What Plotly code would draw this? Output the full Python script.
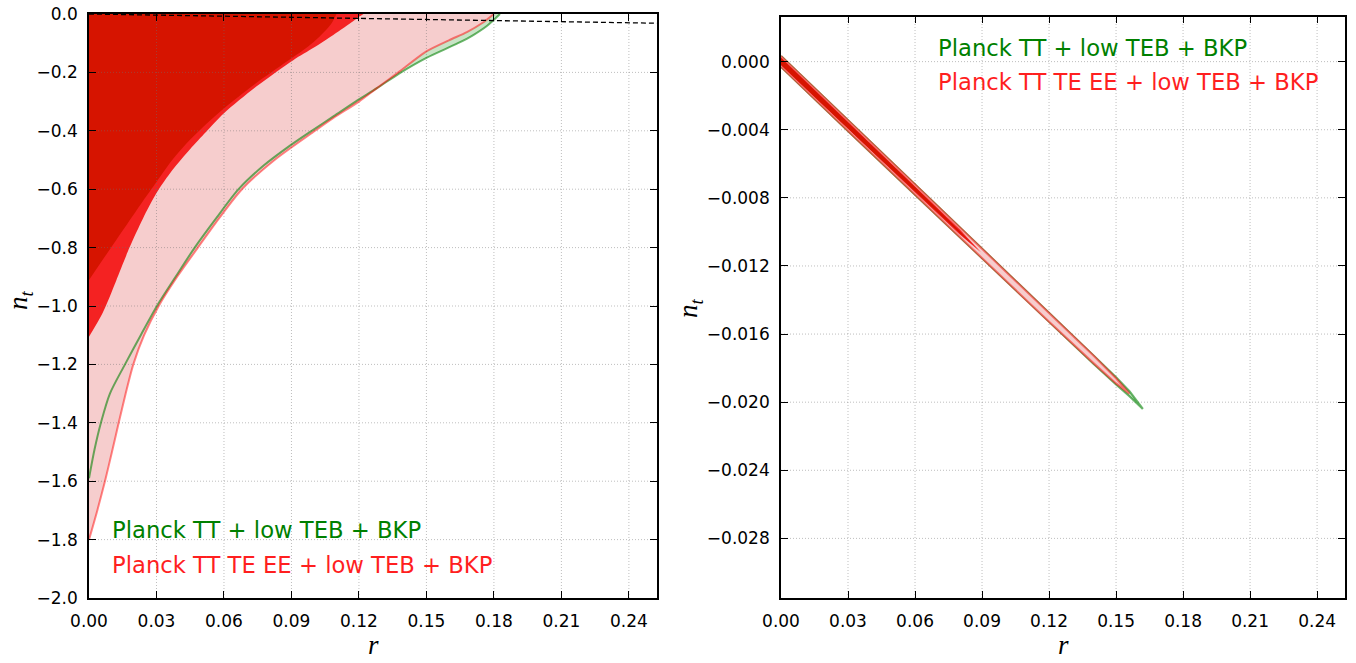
import plotly.graph_objects as go

# ---------------- data ----------------
# Left panel: contour boundaries n_t(r), from r=0 up to the top edge (n_t = 0)
green95_r = [0.0, 0.0025, 0.0053, 0.0093, 0.016, 0.023, 0.0302, 0.0385, 0.047, 0.0565, 0.0665, 0.0775, 0.0895, 0.099, 0.1088, 0.1185, 0.128, 0.138, 0.150, 0.164, 0.1708, 0.177, 0.1827]
green95_n = [-1.59, -1.49, -1.40, -1.30, -1.20, -1.10, -1.00, -0.90, -0.80, -0.70, -0.60, -0.52, -0.45, -0.40, -0.35, -0.30, -0.254, -0.203, -0.150, -0.100, -0.072, -0.040, 0.0]

red95_r = [0.0, 0.0037, 0.0071, 0.0102, 0.0132, 0.0163, 0.0197, 0.0245, 0.031, 0.0392, 0.0484, 0.0578, 0.068, 0.0825, 0.1005, 0.1085, 0.120, 0.128, 0.1375, 0.150, 0.160, 0.168, 0.175, 0.180]
red95_n = [-1.80, -1.70, -1.60, -1.50, -1.40, -1.30, -1.20, -1.10, -1.00, -0.90, -0.80, -0.70, -0.60, -0.50, -0.40, -0.357, -0.30, -0.254, -0.20, -0.128, -0.090, -0.062, -0.030, 0.0]

bright_r = [0.0, 0.006, 0.012, 0.018, 0.024, 0.030, 0.037, 0.045, 0.052, 0.060, 0.075, 0.0908, 0.100, 0.1086, 0.115, 0.119, 0.122]
bright_n = [-1.105, -1.025, -0.915, -0.80, -0.70, -0.613, -0.535, -0.462, -0.404, -0.340, -0.245, -0.158, -0.115, -0.072, -0.038, -0.015, 0.0]

dark_r = [0.0, 0.008, 0.016, 0.024, 0.030, 0.037, 0.045, 0.0567, 0.072, 0.0879, 0.095, 0.100, 0.1045, 0.108, 0.110]
dark_n = [-0.911, -0.82, -0.73, -0.64, -0.575, -0.50, -0.43, -0.345, -0.25, -0.163, -0.125, -0.095, -0.062, -0.030, 0.0]

consistency_r = [0.0, 0.2525]
consistency_n = [0.0, -0.0316]

# Right panel: thin bands (upper / lower edges)
rg_r = [0.0, 0.03, 0.06, 0.09, 0.12, 0.14, 0.15, 0.156, 0.162]
rg_up = [0.000335, -0.003435, -0.00719, -0.01095, -0.01472, -0.01725, -0.01854, -0.01935, -0.0204]
rg_lo = [-0.000295, -0.004065, -0.00781, -0.01155, -0.01528, -0.01775, -0.01896, -0.01965, -0.0204]

rr_r = [0.0, 0.03, 0.06, 0.09, 0.12, 0.14, 0.15, 0.156]
rr_up = [0.000335, -0.003435, -0.00719, -0.01095, -0.01472, -0.017275, -0.0186, -0.0195]
rr_lo = [-0.000295, -0.004065, -0.00781, -0.01155, -0.01528, -0.017725, -0.0189, -0.0195]

rb_r = [0.0, 0.02, 0.04, 0.06, 0.08, 0.0895]
rb_up = [0.00025, -0.00228, -0.0048, -0.0073, -0.00985, -0.0112]
rb_lo = [-0.00022, -0.00272, -0.0052, -0.00768, -0.01015, -0.0112]

rd_r = [0.0, 0.02, 0.04, 0.06, 0.08, 0.086]
rd_up = [0.00022, -0.0023, -0.00483, -0.00736, -0.00994, -0.0108]
rd_lo = [-0.0002, -0.0027, -0.00518, -0.00764, -0.01006, -0.0108]

x_ticks = [0.0, 0.03, 0.06, 0.09, 0.12, 0.15, 0.18, 0.21, 0.24]
x_ticktext = ["0.00", "0.03", "0.06", "0.09", "0.12", "0.15", "0.18", "0.21", "0.24"]
yl_ticks = [0.0, -0.2, -0.4, -0.6, -0.8, -1.0, -1.2, -1.4, -1.6, -1.8, -2.0]
yl_ticktext = ["0.0", "−0.2", "−0.4", "−0.6", "−0.8", "−1.0", "−1.2", "−1.4", "−1.6", "−1.8", "−2.0"]
yr_ticks = [0.0, -0.004, -0.008, -0.012, -0.016, -0.020, -0.024, -0.028]
yr_ticktext = ["0.000", "−0.004", "−0.008", "−0.012", "−0.016", "−0.020", "−0.024", "−0.028"]

x_range = [0, 0.2525]
yl_range = [-2.0, 0.0]
yr_range = [-0.0315, 0.00265]

legend_labels = ["Planck TT + low TEB + BKP", "Planck TT TE EE + low TEB + BKP"]

# ---------------- styles ----------------
C_GREEN_FILL = "#c8e4c6"
C_PINK = "#f6cdcd"
C_BRIGHT = "#f42222"
C_DARK = "#d61400"
C_GREEN_LINE = "rgba(0,128,0,0.58)"
C_RED_LINE = "rgba(255,0,0,0.48)"
C_GRID = "rgba(110,110,110,0.45)"

fig = go.Figure()


def region(r, n, color, xa, ya):
    # area between the boundary curve n_t(r) and the top edge n_t = 0
    fig.add_trace(go.Scatter(x=r, y=n, mode="lines", fill="tozeroy", fillcolor=color,
                             line=dict(width=0, color=color, shape="spline", smoothing=0.8),
                             hoverinfo="skip", showlegend=False, xaxis=xa, yaxis=ya))


def edge(r, n, color, xa, ya, width=2.0, dash=None, shape="spline"):
    fig.add_trace(go.Scatter(x=r, y=n, mode="lines",
                             line=dict(color=color, width=width, dash=dash, shape=shape, smoothing=0.8),
                             hoverinfo="skip", showlegend=False, xaxis=xa, yaxis=ya))


def band(r, up, lo, color, xa, ya, linecolor=None):
    xs = list(r) + list(r[::-1])
    ys = list(up) + list(lo[::-1])
    fig.add_trace(go.Scatter(x=xs, y=ys, mode="lines", fill="toself", fillcolor=color,
                             line=dict(width=2.2 if linecolor else 0, color=linecolor or color),
                             hoverinfo="skip", showlegend=False, xaxis=xa, yaxis=ya))


def grid(xt, yt, xr, yr, xa, ya):
    gx, gy = [], []
    for v in xt[1:]:
        gx += [v, v, None]
        gy += [yr[0], yr[1], None]
    for v in yt:
        if yr[0] < v < yr[1]:
            gx += [xr[0], xr[1], None]
            gy += [v, v, None]
    fig.add_trace(go.Scatter(x=gx, y=gy, mode="lines", line=dict(color=C_GRID, width=1, dash="1px,2px"),
                             hoverinfo="skip", showlegend=False, xaxis=xa, yaxis=ya))


# Left panel
region(green95_r, green95_n, C_GREEN_FILL, "x", "y")
region(red95_r, red95_n, C_PINK, "x", "y")
region(bright_r, bright_n, C_BRIGHT, "x", "y")
region(dark_r, dark_n, C_DARK, "x", "y")
grid(x_ticks, yl_ticks, x_range, yl_range, "x", "y")
edge(green95_r, green95_n, C_GREEN_LINE, "x", "y")
edge(red95_r, red95_n, C_RED_LINE, "x", "y")
edge(consistency_r, consistency_n, "black", "x", "y", width=1.3, dash="5px,3px", shape="linear")

# Right panel
grid(x_ticks, yr_ticks, x_range, yr_range, "x2", "y2")
band(rg_r, rg_up, rg_lo, C_GREEN_FILL, "x2", "y2", linecolor=C_GREEN_LINE)
band(rr_r, rr_up, rr_lo, C_PINK, "x2", "y2", linecolor=C_RED_LINE)
band(rb_r, rb_up, rb_lo, C_BRIGHT, "x2", "y2")
band(rd_r, rd_up, rd_lo, C_DARK, "x2", "y2")

W, H = 1356, 663


def fx(p):
    return p / W


def fy(p):
    return 1 - p / H


Lx = [fx(89), fx(657)]
Rx = [fx(781), fx(1345)]
Ly = [fy(598), fy(14)]
Ry = [fy(598), fy(16.5)]

tickfont = dict(family="DejaVu Sans", size=17, color="black")
axis_common = dict(showline=True, linecolor="black", linewidth=1.7, mirror="allticks",
                   ticks="inside", ticklen=7, tickwidth=1.3, tickcolor="black",
                   showgrid=False, zeroline=False, tickfont=tickfont, automargin=False,
                   layer="above traces", ticklabeloverflow="allow")

fig.update_layout(
    width=W, height=H, margin=dict(l=0, r=0, t=0, b=0),
    paper_bgcolor="white", plot_bgcolor="white", showlegend=False,
    xaxis=dict(domain=Lx, range=x_range, tickvals=x_ticks, ticktext=x_ticktext,
               anchor="y", ticklabelstandoff=7, **axis_common),
    yaxis=dict(domain=Ly, range=yl_range, tickvals=yl_ticks, ticktext=yl_ticktext,
               anchor="x", ticklabelstandoff=6, **axis_common),
    xaxis2=dict(domain=Rx, range=x_range, tickvals=x_ticks, ticktext=x_ticktext,
                anchor="y2", ticklabelstandoff=7, **axis_common),
    yaxis2=dict(domain=Ry, range=yr_range, tickvals=yr_ticks, ticktext=yr_ticktext,
                anchor="x2", ticklabelstandoff=6, **axis_common),
)

ann_font = dict(family="DejaVu Sans", size=22.7)
title_font = dict(family="Liberation Serif", size=27, color="black")
for (xp, yp), txt, col in [((110, 530), legend_labels[0], "green"),
                           ((110, 565), legend_labels[1], "#ff1f1f"),
                           ((936, 48), legend_labels[0], "green"),
                           ((936, 82), legend_labels[1], "#ff1f1f")]:
    fig.add_annotation(x=fx(xp), y=fy(yp), xref="paper", yref="paper", text=txt,
                       showarrow=False, xanchor="left", yanchor="middle", font=dict(color=col, **ann_font))

# axis titles
for xp in [(89 + 657) / 2, (781 + 1345) / 2]:
    fig.add_annotation(x=fx(xp), y=fy(645), xref="paper", yref="paper", text="<i>r</i>",
                       showarrow=False, xanchor="center", yanchor="middle", font=title_font)
for xp, yp in [(20, 300), (690, 308)]:
    fig.add_annotation(x=fx(xp), y=fy(yp), xref="paper", yref="paper", text="<i>n</i><sub><i>t</i></sub>",
                       showarrow=False, xanchor="center", yanchor="middle", textangle=-90, font=title_font)

fig.write_html("out.html", config={"displayModeBar": False},
               post_script="document.body.style.margin='0px';")
